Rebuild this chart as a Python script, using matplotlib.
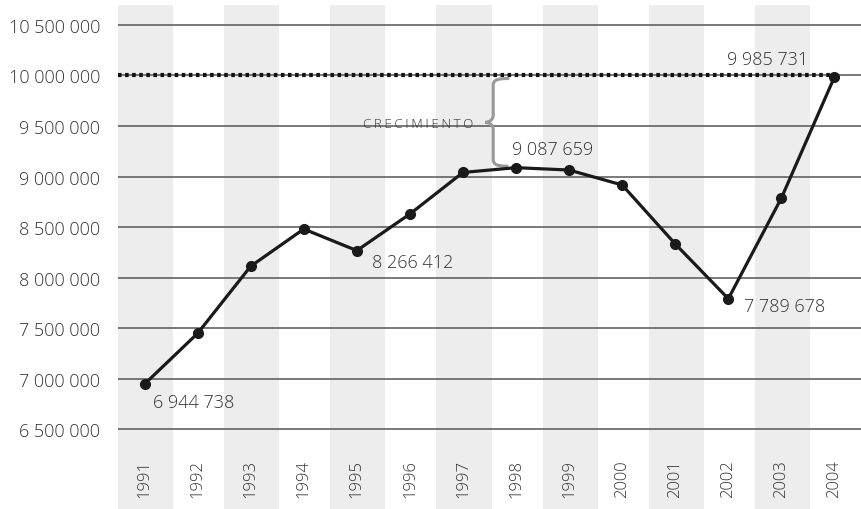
import matplotlib.pyplot as plt
from matplotlib.path import Path
from matplotlib.patches import PathPatch
import matplotlib.transforms as mtransforms

plt.rcParams['font.family'] = ['Open Sans', 'DejaVu Sans']
plt.rcParams['font.weight'] = 300

years = [1991, 1992, 1993, 1994, 1995, 1996, 1997, 1998, 1999, 2000, 2001, 2002, 2003, 2004]
population = [6944738, 7447000, 8111000, 8480000, 8266412, 8629000, 9040000,
              9087659, 9064000, 8916000, 8332000, 7789678, 8787000, 9985731]
yticks = [6500000, 7000000, 7500000, 8000000, 8500000, 9000000, 9500000, 10000000, 10500000]
target = 10000000
labeled = {0: (8, -23, 'left'), 4: (15, -16, 'left'), 7: (-4, 14, 'left'),
           11: (16, -12, 'left'), 13: (-26, 13, 'right')}


def fmt(v):
    return f"{v:,}".replace(",", " ")


def main():
    fig = plt.figure(figsize=(8.61, 5.10), dpi=100)
    ax = fig.add_axes([118 / 861, 0, 1 - 118 / 861, 1 - 6 / 510])
    n = len(years)
    ax.set_xlim(-0.5, n - 0.5)
    ax.set_ylim(5708000, 10698000)

    # alternating column bands
    for i in range(0, n, 2):
        ax.axvspan(i - 0.5, i + 0.54, color='#ededed', lw=0, zorder=0)

    for v in yticks:
        ax.axhline(v, color='#555555', lw=1.1, zorder=1)

    # target line (square dots)
    ax.plot([-0.5, n - 1], [target, target], color='#111111', lw=3.0,
            dashes=(0.85, 0.85), dash_capstyle='butt', zorder=3)

    xs = list(range(n))
    ax.plot(xs, population, color='#1a1a1a', lw=2.3, marker='o', ms=7,
            zorder=4, solid_joinstyle='round')

    for i, (dx, dy, ha) in labeled.items():
        ax.annotate(fmt(population[i]), (i, population[i]), xytext=(dx, dy),
                    textcoords='offset pixels', ha=ha, va='baseline',
                    fontsize=13, color='#333333', fontweight=300)

    # year labels under the grid
    trans = mtransforms.blended_transform_factory(ax.transData, ax.transAxes)
    for i, y in enumerate(years):
        ax.text(i, 0.024, str(y), transform=trans, rotation=90, ha='center',
                va='bottom', fontsize=12, color='#333333', fontweight=300)

    # brace between 1998 value and target
    top = target - 30000
    bot = population[7] + 15000
    mid = (top + bot) / 2
    xr, xb, xt = 6.85, 6.57, 6.42
    c = 0.08 * (top - bot)
    verts = [(xr, top), (xb + 0.05, top), (xb, top - 0.3 * c), (xb, top - c),
             (xb, mid + c),
             (xb, mid + 0.3 * c), (xt + 0.06, mid), (xt, mid),
             (xt + 0.06, mid), (xb, mid - 0.3 * c), (xb, mid - c),
             (xb, bot + c),
             (xb, bot + 0.3 * c), (xb + 0.05, bot), (xr - 0.02, bot)]
    codes = [Path.MOVETO, Path.CURVE4, Path.CURVE4, Path.CURVE4,
             Path.LINETO,
             Path.CURVE4, Path.CURVE4, Path.CURVE4,
             Path.CURVE4, Path.CURVE4, Path.CURVE4,
             Path.LINETO,
             Path.CURVE4, Path.CURVE4, Path.CURVE4]
    ax.add_patch(PathPatch(Path(verts, codes), fill=False, ec='#999999',
                           lw=2.2, zorder=3, capstyle='round'))
    ax.text(6.20, 9490000, "\u2009".join("CRECIMIENTO"), ha='right', va='baseline',
            fontsize=9.5, color='#333333', fontweight=300)

    ax.set_yticks(yticks)
    ax.set_yticklabels([fmt(v) for v in yticks], fontsize=13, color='#333333',
                       fontweight=300)
    ax.tick_params(axis='y', length=0, pad=13)
    ax.set_xticks([])
    for s in ax.spines.values():
        s.set_visible(False)

    fig.savefig('out.png', dpi=100)


if __name__ == "__main__":
    main()
